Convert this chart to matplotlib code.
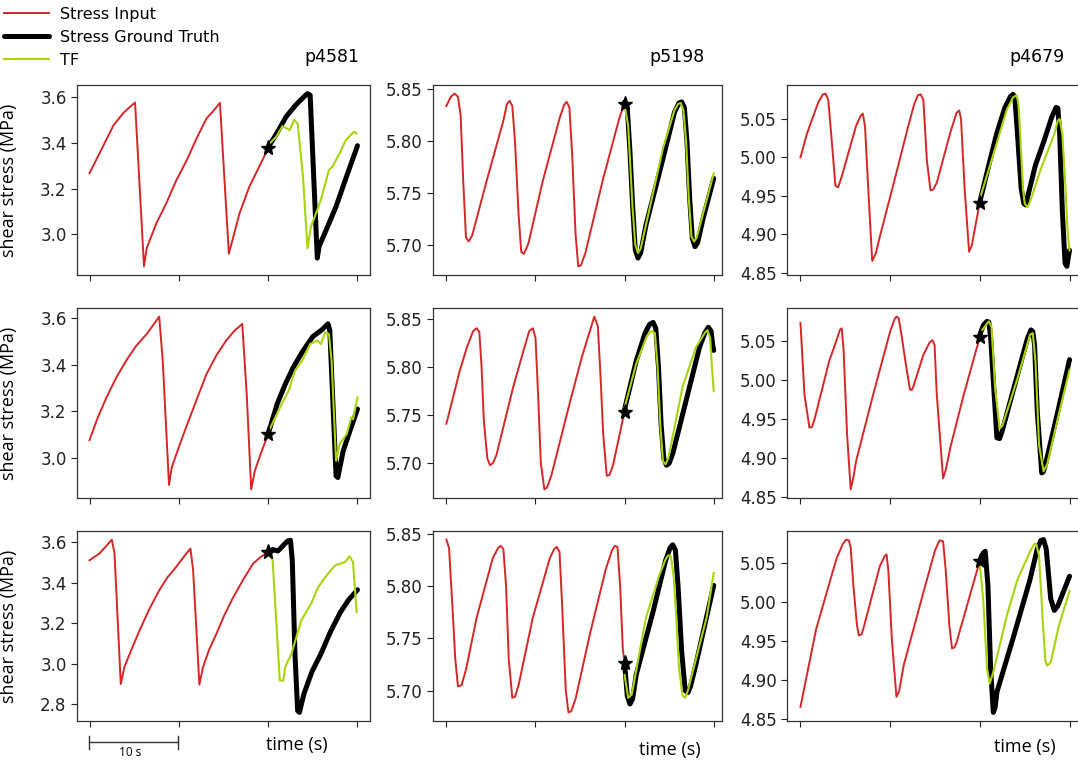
import matplotlib
matplotlib.use("Agg")
import matplotlib.pyplot as plt
from matplotlib.ticker import MultipleLocator
from matplotlib.lines import Line2D

# ---------------- data (time in s, shear stress in MPa) ----------------
panel_titles = ["p4581", "p5198", "p4679"]
legend_labels = ["Stress Input", "Stress Ground Truth", "TF"]

# Row 1 ---------------------------------------------------------------
in_t_11 = [0, 1.2, 2.7, 3.8, 4.5, 5.1, 6.1, 6.4, 7.5, 8.6, 9.7, 10.9, 12.0, 13.1, 13.9, 14.6, 15.6, 16.1, 16.8, 17.9, 19.0, 20.0]
in_v_11 = [3.267, 3.36, 3.477, 3.53, 3.555, 3.575, 2.861, 2.94, 3.05, 3.136, 3.235, 3.325, 3.42, 3.506, 3.54, 3.574, 2.916, 2.99, 3.093, 3.209, 3.296, 3.375]
gt_t_11 = [20, 21.1, 22.0, 23.1, 24.0, 24.4, 24.7, 25.1, 25.5, 25.7, 26.5, 27.6, 28.7, 30]
gt_v_11 = [3.38, 3.45, 3.513, 3.565, 3.60, 3.614, 3.607, 3.25, 2.897, 2.948, 3.02, 3.122, 3.245, 3.387]
tf_t_11 = [20.0, 20.9, 21.6, 22.4, 22.9, 23.3, 23.9, 24.4, 24.8, 25.5, 25.9, 26.8, 27.2, 28.0, 28.7, 29.6, 29.9]
tf_v_11 = [3.39, 3.426, 3.472, 3.455, 3.499, 3.484, 3.252, 2.94, 3.035, 3.107, 3.151, 3.281, 3.296, 3.354, 3.412, 3.448, 3.44]

in_t_12 = [0, 0.5, 0.93, 1.3, 1.6, 1.9, 2.2, 2.5, 2.9, 4.5, 6.4, 6.8, 7.1, 7.4, 7.7, 8.1, 8.4, 8.7, 9.2,
           10.8, 12.7, 13.2, 13.5, 13.8, 14.1, 14.5, 14.8, 15.1, 15.6, 17.6, 19.4, 20.0]
in_v_12 = [5.834, 5.843, 5.846, 5.843, 5.825, 5.76, 5.707, 5.703, 5.709, 5.761, 5.820, 5.836, 5.839, 5.834, 5.80, 5.73, 5.693, 5.691, 5.701,
           5.761, 5.822, 5.835, 5.838, 5.833, 5.79, 5.71, 5.679, 5.680, 5.692, 5.764, 5.822, 5.837]
gt_t_12 = [20, 20.3, 20.6, 20.9, 21.2, 21.5, 21.8, 22.4, 24.3, 25.6, 26.1, 26.4, 26.7, 27.0, 27.3, 27.6, 27.9, 28.2, 28.8, 30]
gt_v_12 = [5.838, 5.832, 5.79, 5.738, 5.695, 5.687, 5.692, 5.719, 5.783, 5.828, 5.837, 5.838, 5.833, 5.80, 5.745, 5.706, 5.698, 5.702, 5.725, 5.764]
tf_t_12 = [20, 20.4, 20.9, 21.2, 21.5, 21.8, 24.3, 25.6, 26.0, 26.3, 26.6, 26.9, 27.2, 27.5, 27.8, 28.1, 30]
tf_v_12 = [5.835, 5.815, 5.735, 5.70, 5.692, 5.696, 5.793, 5.83, 5.836, 5.837, 5.83, 5.80, 5.745, 5.708, 5.703, 5.707, 5.769]

in_t_13 = [0, 0.7, 1.4, 2.0, 2.5, 2.8, 3.1, 3.5, 3.9, 4.2, 4.6, 5.4, 6.2, 6.7, 6.95, 7.2, 7.6, 8.0, 8.4, 8.9,
           10.7, 12.0, 12.7, 13.1, 13.4, 13.7, 14.1, 14.5, 14.8, 15.2, 16.7, 17.4, 17.7, 17.9, 18.3, 18.8, 19.1, 20.0]
in_v_13 = [5.0, 5.03, 5.053, 5.072, 5.082, 5.083, 5.075, 5.02, 4.963, 4.961, 4.975, 5.008, 5.041, 5.054, 5.057, 5.04, 4.95, 4.865, 4.875, 4.899,
           4.980, 5.04, 5.07, 5.081, 5.082, 5.075, 4.995, 4.957, 4.958, 4.967, 5.032, 5.058, 5.061, 5.05, 4.96, 4.877, 4.885, 4.942]
gt_t_13 = [20, 21, 21.9, 22.8, 23.4, 23.7, 23.9, 24.2, 24.6, 24.9, 25.1, 25.4, 26.2, 27.2, 28.0, 28.5, 28.7, 28.9, 29.2, 29.5, 29.7, 30]
gt_v_13 = [4.942, 4.99, 5.032, 5.065, 5.079, 5.082, 5.078, 5.03, 4.96, 4.94, 4.938, 4.952, 4.99, 5.023, 5.052, 5.065, 5.064, 5.03, 4.93, 4.862, 4.858, 4.879]
tf_t_13 = [20, 21.9, 23.0, 23.7, 24.1, 24.3, 24.5, 24.8, 25.0, 25.3, 25.6, 26.8, 27.5, 28.3, 28.7, 28.9, 29.2, 29.5, 29.8, 30]
tf_v_13 = [4.946, 5.019, 5.062, 5.078, 5.081, 5.07, 5.03, 4.96, 4.94, 4.935, 4.942, 4.985, 5.006, 5.03, 5.048, 5.05, 5.03, 4.97, 4.90, 4.879]

# Row 2 ---------------------------------------------------------------
in_t_21 = [0, 0.9, 1.9, 3.0, 4.1, 5.2, 6.4, 7.8, 8.2, 8.9, 9.2, 10.0, 10.8, 12.0, 13.1, 14.2, 15.3, 16.2, 17.1, 17.6, 18.1, 18.5, 19.2, 20.0]
in_v_21 = [3.075, 3.17, 3.259, 3.345, 3.417, 3.48, 3.532, 3.607, 3.417, 2.882, 2.957, 3.045, 3.129, 3.25, 3.360, 3.44, 3.504, 3.545, 3.576, 3.273, 2.863, 2.942, 3.02, 3.101]
gt_t_21 = [20, 21.0, 21.9, 22.8, 23.9, 25.0, 26.0, 26.7, 26.9, 27.6, 27.8, 28.4, 29.2, 30]
gt_v_21 = [3.101, 3.23, 3.315, 3.388, 3.46, 3.521, 3.55, 3.576, 3.547, 2.921, 2.914, 3.029, 3.12, 3.209]
tf_t_21 = [20.0, 21.5, 22.3, 23.0, 23.8, 24.7, 25.5, 25.9, 26.4, 26.8, 27.1, 27.6, 28.0, 28.8, 29.3, 29.5, 30.0]
tf_v_21 = [3.108, 3.23, 3.288, 3.374, 3.417, 3.489, 3.504, 3.489, 3.540, 3.532, 3.417, 2.986, 3.058, 3.101, 3.173, 3.165, 3.259]

in_t_22 = [0, 0.8, 1.5, 2.3, 3.0, 3.4, 3.7, 3.95, 4.2, 4.6, 4.9, 5.2, 5.6, 7.5, 8.6, 9.3, 9.7, 10.0, 10.3, 10.6,
           11.0, 11.3, 11.8, 13.8, 15.2, 16.1, 16.6, 17.0, 17.3, 17.6, 18.0, 18.3, 18.7, 20.0]
in_v_22 = [5.741, 5.77, 5.796, 5.82, 5.837, 5.840, 5.836, 5.80, 5.745, 5.705, 5.698, 5.700, 5.708, 5.779, 5.815, 5.837, 5.840, 5.830, 5.77, 5.70,
           5.673, 5.675, 5.688, 5.761, 5.81, 5.837, 5.852, 5.842, 5.79, 5.73, 5.687, 5.688, 5.698, 5.754]
gt_t_22 = [20, 21.3, 22.3, 22.8, 23.2, 23.5, 23.8, 24.1, 24.4, 24.7, 25.0, 25.4, 26.9, 28.4, 29.0, 29.4, 29.7, 29.9, 30.0]
gt_v_22 = [5.756, 5.806, 5.835, 5.844, 5.846, 5.84, 5.80, 5.74, 5.705, 5.698, 5.70, 5.71, 5.765, 5.820, 5.835, 5.841, 5.837, 5.822, 5.817]
tf_t_22 = [20, 21.3, 22.5, 23.0, 23.4, 23.7, 24.0, 24.3, 24.6, 24.9, 26.5, 28.0, 29.0, 29.3, 29.6, 29.8, 30]
tf_v_22 = [5.758, 5.803, 5.832, 5.837, 5.835, 5.80, 5.74, 5.702, 5.699, 5.705, 5.779, 5.820, 5.835, 5.838, 5.830, 5.80, 5.775]

in_t_23 = [0, 0.45, 1.0, 1.3, 1.6, 3.2, 4.0, 4.4, 4.6, 4.8, 5.2, 5.6, 5.9, 6.2, 8.1, 10.0, 10.5, 10.7, 10.95, 11.3,
           11.7, 12.2, 12.4, 12.6, 13.7, 14.4, 14.7, 14.95, 15.2, 15.9, 16.2, 16.7, 18.2, 20.0]
in_v_23 = [5.073, 4.981, 4.939, 4.940, 4.951, 5.024, 5.05, 5.064, 5.066, 5.04, 4.93, 4.860, 4.875, 4.896, 4.981, 5.062, 5.078, 5.081, 5.079, 5.055,
           5.024, 4.988, 4.987, 4.992, 5.032, 5.048, 5.051, 5.045, 4.981, 4.874, 4.885, 4.913, 4.981, 5.055]
gt_t_23 = [20, 20.4, 20.8, 21.0, 21.2, 21.6, 21.9, 22.2, 22.5, 23.8, 25.3, 25.7, 25.9, 26.1, 26.4, 26.9, 27.1, 27.4, 28.7, 30]
gt_v_23 = [5.058, 5.07, 5.075, 5.074, 5.055, 4.981, 4.926, 4.925, 4.935, 4.990, 5.053, 5.064, 5.062, 5.045, 4.960, 4.881, 4.883, 4.896, 4.960, 5.026]
tf_t_23 = [20.0, 21.0, 21.3, 21.7, 22.2, 22.5, 24.2, 25.6, 25.9, 26.2, 26.6, 27.1, 27.5, 28.8, 30.0]
tf_v_23 = [5.06, 5.075, 5.068, 4.990, 4.938, 4.941, 5.002, 5.058, 5.060, 5.024, 4.917, 4.883, 4.892, 4.956, 5.013]

# Row 3 ---------------------------------------------------------------
in_t_31 = [0, 1.1, 1.8, 2.5, 2.8, 3.5, 3.9, 4.7, 5.6, 6.7, 7.8, 8.7, 9.7, 10.5, 11.3, 11.6, 12.3, 12.7, 13.4, 14.2, 15.1, 16.1, 17.2, 18.3, 19.1, 20.0]
in_v_31 = [3.511, 3.544, 3.578, 3.613, 3.544, 2.899, 2.982, 3.07, 3.164, 3.27, 3.362, 3.425, 3.478, 3.525, 3.569, 3.461, 2.896, 2.982, 3.07, 3.147, 3.24, 3.329, 3.415, 3.494, 3.525, 3.552]
gt_t_31 = [20, 20.5, 21.1, 21.7, 22.2, 22.5, 22.7, 23.0, 23.3, 23.5, 24.0, 24.9, 25.9, 27.0, 28.1, 29.0, 30]
gt_v_31 = [3.552, 3.564, 3.557, 3.585, 3.607, 3.610, 3.511, 3.048, 2.767, 2.759, 2.850, 2.96, 3.048, 3.16, 3.255, 3.315, 3.365]
tf_t_31 = [20.0, 20.5, 20.9, 21.3, 21.7, 21.9, 22.6, 23.7, 24.8, 25.6, 26.7, 27.5, 28.6, 29.1, 29.5, 29.9]
tf_v_31 = [3.552, 3.511, 3.213, 2.916, 2.916, 2.982, 3.048, 3.213, 3.296, 3.379, 3.445, 3.486, 3.502, 3.531, 3.502, 3.255]

in_t_32 = [0, 0.3, 0.75, 1.0, 1.3, 1.7, 2.2, 3.4, 5.2, 5.8, 6.1, 6.4, 6.7, 7.0, 7.4, 7.7, 8.1, 9.7, 11.6, 12.1,
           12.4, 12.7, 13.0, 13.4, 13.7, 14.0, 14.5, 16.1, 17.9, 18.6, 18.9, 19.2, 19.5, 19.8, 20.0]
in_v_32 = [5.845, 5.837, 5.770, 5.73, 5.704, 5.705, 5.72, 5.770, 5.827, 5.837, 5.839, 5.836, 5.80, 5.73, 5.693, 5.694, 5.705, 5.770, 5.827, 5.836,
           5.838, 5.833, 5.78, 5.70, 5.679, 5.68, 5.692, 5.754, 5.817, 5.835, 5.839, 5.838, 5.80, 5.74, 5.726]
gt_t_32 = [20, 20.3, 20.6, 20.9, 21.3, 23.2, 24.6, 25.1, 25.4, 25.7, 26.0, 26.4, 26.8, 27.1, 27.4, 28.0, 30]
gt_v_32 = [5.726, 5.695, 5.687, 5.692, 5.715, 5.776, 5.825, 5.837, 5.840, 5.835, 5.80, 5.738, 5.70, 5.698, 5.704, 5.725, 5.801]
tf_t_32 = [20, 20.4, 20.8, 22.4, 23.9, 24.6, 24.9, 25.2, 25.5, 25.8, 26.1, 26.5, 26.8, 27.1, 29.2, 30]
tf_v_32 = [5.715, 5.693, 5.696, 5.770, 5.811, 5.826, 5.830, 5.829, 5.81, 5.77, 5.722, 5.695, 5.693, 5.70, 5.770, 5.813]

in_t_33 = [0, 1.75, 3.0, 4.0, 4.7, 5.1, 5.4, 5.6, 5.9, 6.3, 6.5, 6.8, 7.0, 8.85, 9.4, 9.6, 9.8, 10.2, 10.7, 11.0,
           11.5, 13.7, 15.0, 15.5, 15.9, 16.2, 16.6, 16.9, 17.2, 17.4, 20.0]
in_v_33 = [4.865, 4.965, 5.015, 5.055, 5.074, 5.080, 5.079, 5.07, 5.021, 4.97, 4.957, 4.958, 4.965, 5.046, 5.059, 5.061, 5.04, 4.95, 4.878, 4.885,
           4.918, 5.012, 5.066, 5.079, 5.078, 5.04, 4.97, 4.940, 4.942, 4.948, 5.053]
gt_t_33 = [20, 20.4, 20.6, 20.9, 21.2, 21.5, 21.7, 21.9, 23.8, 25.6, 26.4, 26.8, 27.1, 27.4, 27.7, 27.9, 28.3, 28.7, 30]
gt_v_33 = [5.053, 5.063, 5.065, 5.021, 4.914, 4.858, 4.864, 4.884, 4.957, 5.029, 5.068, 5.079, 5.080, 5.068, 5.03, 5.004, 4.989, 4.995, 5.033]
tf_t_33 = [20, 20.4, 20.8, 21.1, 21.5, 23.0, 24.2, 25.7, 26.1, 26.3, 26.6, 27.0, 27.3, 27.5, 27.9, 28.8, 30]
tf_v_33 = [5.048, 4.999, 4.914, 4.895, 4.910, 4.982, 5.029, 5.067, 5.075, 5.074, 5.059, 4.978, 4.925, 4.918, 4.922, 4.969, 5.014]

# forecast start (star) values
star_t = [20.0] * 9
star_v = [3.375, 5.836, 4.941,
          3.10, 5.753, 5.055,
          3.55, 5.726, 5.053]

ytick_steps = [0.2, 0.05, 0.05]
xticks = [0, 10, 20, 30]

panels = [
    (in_t_11, in_v_11, gt_t_11, gt_v_11, tf_t_11, tf_v_11),
    (in_t_12, in_v_12, gt_t_12, gt_v_12, tf_t_12, tf_v_12),
    (in_t_13, in_v_13, gt_t_13, gt_v_13, tf_t_13, tf_v_13),
    (in_t_21, in_v_21, gt_t_21, gt_v_21, tf_t_21, tf_v_21),
    (in_t_22, in_v_22, gt_t_22, gt_v_22, tf_t_22, tf_v_22),
    (in_t_23, in_v_23, gt_t_23, gt_v_23, tf_t_23, tf_v_23),
    (in_t_31, in_v_31, gt_t_31, gt_v_31, tf_t_31, tf_v_31),
    (in_t_32, in_v_32, gt_t_32, gt_v_32, tf_t_32, tf_v_32),
    (in_t_33, in_v_33, gt_t_33, gt_v_33, tf_t_33, tf_v_33),
]

# ---------------- styling / layout ----------------
W, H = 1078, 762
RED = "#d62728"
GREEN = "#a8d40c"

col_left = [77, 433, 787]
col_width = [293, 289, 296]
col_xlim = [(-1.4, 31.4), (-1.5, 30.93), (-1.5, 31.5)]
row_top = [85, 308, 531]
row_h = 190

fig = plt.figure(figsize=(W / 100, H / 100), dpi=100)

handles = None
for i, (it, iv, gt, gv, tt, tv) in enumerate(panels):
    r, c = divmod(i, 3)
    l = col_left[c]
    ax = fig.add_axes([l / W, 1 - (row_top[r] + row_h) / H, col_width[c] / W, row_h / H])
    h1, = ax.plot(it, iv, color=RED, lw=1.4)
    h2, = ax.plot(gt, gv, color="black", lw=3.6, solid_capstyle="round", solid_joinstyle="round")
    h3, = ax.plot(tt, tv, color=GREEN, lw=1.5)
    ax.plot(star_t[i], star_v[i], marker="*", color="black", ms=11, ls="none", zorder=5)
    if handles is None:
        handles = [h1, h2, h3]
    ax.set_xlim(*col_xlim[c])
    ax.set_xticks(xticks)
    ax.set_xticklabels([])
    ax.yaxis.set_major_locator(MultipleLocator(ytick_steps[c]))
    ax.tick_params(labelsize=12, length=4, width=0.8, colors="#222222")
    for sp in ax.spines.values():
        sp.set_color("#333333")
        sp.set_linewidth(0.9)
    if c == 0:
        ax.set_ylabel("shear stress (MPa)", fontsize=13, family="Open Sans")
        ax.yaxis.set_label_coords((18 - l) / col_width[c], 0.5)

# panel titles
title_x = [332, 677, 1037]
for x, t in zip(title_x, panel_titles):
    fig.text(x / W, 1 - 57 / H, t, fontsize=12.5, ha="center", va="center")

# time labels
time_pos = [(297, 745), (670, 750), (1025, 747)]
for x, y in time_pos:
    fig.text(x / W, 1 - y / H, "time (s)", fontsize=13, family="Open Sans", ha="center", va="center")

# 10 s scale bar
sb_y = 1 - 742 / H
fig.add_artist(Line2D([89 / W, 178 / W], [sb_y, sb_y], color="#333333", lw=1.0))
for xx in (89, 178):
    fig.add_artist(Line2D([xx / W, xx / W], [1 - 736 / H, 1 - 749 / H], color="#333333", lw=1.0))
fig.text(130 / W, 1 - 753 / H, "10 s", fontsize=8.5, family="Open Sans", ha="center", va="center")

# legend
fig.legend(handles, legend_labels, loc="upper left", bbox_to_anchor=(0.0, 1 - 3 / H),
           frameon=False, fontsize=11.5, handlelength=2.8, handletextpad=0.7,
           labelspacing=0.5, borderaxespad=0.0, borderpad=0.25)

fig.savefig("out.png", dpi=100)
